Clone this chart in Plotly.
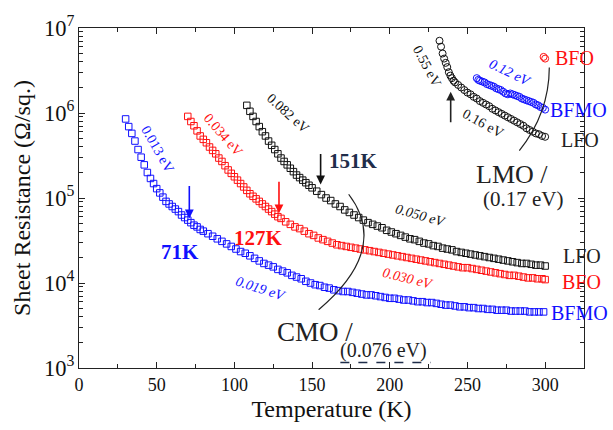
import numpy as np
import plotly.graph_objects as go

# ---- Sheet resistance vs temperature (log10 of R in Ohm/sq.) ----
# CMO-based films, square symbols
bfmo_T = [30, 32, 34, 36, 38, 40, 42, 44, 46, 48, 50, 52, 54, 56, 58, 60, 62, 64, 66, 68,
          70, 72, 74, 76, 78, 80, 83, 86, 89, 92, 95, 98, 101, 104, 107, 110, 113, 116, 119,
          122, 125, 128, 131, 134, 137, 140, 143, 146, 149, 152, 155, 158, 161, 164, 167, 170,
          173, 176, 179, 182, 185, 188, 191, 194, 197, 200, 203, 206, 209, 212, 215, 218, 221,
          224, 227, 230, 233, 236, 239, 242, 245, 248, 251, 254, 257, 260, 263, 266, 269, 272,
          275, 278, 281, 284, 287, 290, 293, 296, 299]
bfmo_logR = [5.93, 5.84, 5.76, 5.67, 5.57, 5.48, 5.39, 5.30, 5.23, 5.17, 5.11, 5.06, 5.01, 4.96,
             4.93, 4.90, 4.87, 4.84, 4.80, 4.77, 4.74, 4.71, 4.68, 4.66, 4.63, 4.61, 4.58, 4.55,
             4.52, 4.49, 4.46, 4.43, 4.40, 4.37, 4.35, 4.32, 4.29, 4.26, 4.23, 4.21, 4.19, 4.16,
             4.14, 4.12, 4.09, 4.07, 4.05, 4.02, 4.00, 3.98, 3.97, 3.95, 3.94, 3.92, 3.91, 3.90,
             3.90, 3.89, 3.88, 3.87, 3.86, 3.86, 3.85, 3.84, 3.83, 3.82, 3.82, 3.81, 3.80, 3.80,
             3.79, 3.78, 3.78, 3.77, 3.77, 3.76, 3.75, 3.74, 3.74, 3.73, 3.72, 3.72, 3.71, 3.71,
             3.70, 3.70, 3.69, 3.69, 3.68, 3.68, 3.68, 3.67, 3.67, 3.67, 3.67, 3.66, 3.66, 3.66,
             3.66]

bfo_T = [70, 72, 74, 76, 78, 80, 82, 84, 86, 88, 90, 92, 94, 96, 98, 100, 102, 104, 106, 108,
         110, 112, 114, 116, 118, 120, 122, 124, 126, 128, 130, 133, 136, 139, 142, 145, 148,
         151, 154, 157, 160, 163, 166, 169, 172, 175, 178, 181, 184, 187, 190, 193, 196, 199,
         202, 205, 208, 211, 214, 217, 220, 223, 226, 229, 232, 235, 238, 241, 244, 247, 250,
         253, 256, 259, 262, 265, 268, 271, 274, 277, 280, 283, 286, 289, 292, 295, 298, 300]
bfo_logR = [5.96, 5.90, 5.85, 5.79, 5.73, 5.69, 5.65, 5.60, 5.56, 5.52, 5.47, 5.43, 5.38, 5.33,
            5.29, 5.25, 5.21, 5.17, 5.13, 5.09, 5.05, 5.02, 4.99, 4.96, 4.93, 4.90, 4.87, 4.84,
            4.81, 4.78, 4.76, 4.72, 4.69, 4.66, 4.64, 4.61, 4.58, 4.56, 4.53, 4.51, 4.49, 4.47,
            4.45, 4.44, 4.43, 4.42, 4.41, 4.40, 4.39, 4.38, 4.37, 4.36, 4.35, 4.34, 4.33, 4.32,
            4.31, 4.30, 4.29, 4.28, 4.27, 4.26, 4.25, 4.24, 4.23, 4.22, 4.21, 4.20, 4.19, 4.18,
            4.18, 4.17, 4.16, 4.15, 4.14, 4.13, 4.12, 4.11, 4.10, 4.09, 4.09, 4.08, 4.07, 4.06,
            4.06, 4.05, 4.05, 4.04]

lfo_T = [108, 110, 112, 114, 116, 118, 120, 122, 124, 126, 128, 130, 132, 134, 136, 138, 140,
         142, 144, 146, 148, 150, 153, 156, 159, 162, 165, 168, 171, 174, 177, 180, 183, 186,
         189, 192, 195, 198, 201, 204, 207, 210, 213, 216, 219, 222, 225, 228, 231, 234, 237,
         240, 243, 246, 249, 252, 255, 258, 261, 264, 267, 270, 273, 276, 279, 282, 285, 288,
         291, 294, 297, 300]
lfo_logR = [6.09, 6.02, 5.96, 5.90, 5.84, 5.78, 5.73, 5.67, 5.62, 5.57, 5.52, 5.47, 5.43, 5.39,
            5.35, 5.31, 5.27, 5.24, 5.21, 5.18, 5.15, 5.12, 5.08, 5.04, 5.00, 4.97, 4.93, 4.90,
            4.86, 4.83, 4.80, 4.77, 4.74, 4.71, 4.69, 4.67, 4.65, 4.62, 4.60, 4.58, 4.56, 4.54,
            4.52, 4.51, 4.49, 4.47, 4.46, 4.44, 4.43, 4.41, 4.40, 4.39, 4.37, 4.36, 4.35, 4.34,
            4.33, 4.32, 4.31, 4.30, 4.29, 4.28, 4.27, 4.26, 4.25, 4.24, 4.23, 4.23, 4.22, 4.21,
            4.21, 4.20]

# LMO-based films, circle symbols
lmo_lfo_T = [232, 233, 234, 235, 236, 237, 238, 239, 240, 241, 242, 244, 246, 248, 250, 252,
             254, 256, 258, 260, 262, 264, 266, 268, 270, 272, 274, 276, 278, 280, 282, 284,
             286, 288, 290, 292, 294, 296, 298, 300]
lmo_lfo_logR = [6.85, 6.78, 6.70, 6.64, 6.59, 6.54, 6.48, 6.44, 6.41, 6.38, 6.36, 6.33, 6.30,
                6.27, 6.24, 6.22, 6.19, 6.17, 6.14, 6.12, 6.10, 6.08, 6.05, 6.03, 6.01, 5.99,
                5.97, 5.95, 5.93, 5.91, 5.89, 5.87, 5.85, 5.82, 5.80, 5.78, 5.76, 5.75, 5.73,
                5.72]

lmo_bfmo_T = [256, 257, 258, 259.5, 261, 262.5, 264, 265.5, 267, 268.5, 270, 271.5, 273, 274.5,
              276, 277.5, 279, 280.5, 282, 283.5, 285, 286.5, 288, 289.5, 291, 292.5, 294,
              295.5, 297, 298.5, 300]
lmo_bfmo_logR = [6.41, 6.39, 6.38, 6.37, 6.36, 6.34, 6.33, 6.32, 6.31, 6.29, 6.28, 6.27, 6.25,
                 6.23, 6.22, 6.23, 6.22, 6.21, 6.20, 6.19, 6.17, 6.16, 6.15, 6.14, 6.13, 6.12,
                 6.10, 6.09, 6.07, 6.06, 6.04]

lmo_bfo_T = [299, 300]
lmo_bfo_logR = [6.66, 6.64]

BLUE = "#1010ff"
RED = "#ff1010"
BLACK = "#111111"
NAVY = "#1f2d4a"
DARK = "#222222"
SERIF = "Liberation Serif"


def R(vals):
    return 10 ** np.asarray(vals)


fig = go.Figure()

square_sets = [(bfmo_T, bfmo_logR, BLUE), (bfo_T, bfo_logR, RED), (lfo_T, lfo_logR, BLACK)]
for t, lr, c in square_sets:
    fig.add_trace(go.Scatter(x=t, y=R(lr), mode="markers",
                             marker=dict(symbol="square-open", size=6.5, color=c,
                                         line=dict(width=1, color=c))))

circle_sets = [(lmo_lfo_T, lmo_lfo_logR, BLACK), (lmo_bfmo_T, lmo_bfmo_logR, BLUE),
               (lmo_bfo_T, lmo_bfo_logR, RED)]
for t, lr, c in circle_sets:
    fig.add_trace(go.Scatter(x=t, y=R(lr), mode="markers",
                             marker=dict(symbol="circle-open", size=7, color=c,
                                         line=dict(width=1, color=c))))

annotations = []


def label(x, ylog, text, color, size=14, angle=0, bold=False, italic=False):
    t = text
    if bold:
        t = "<b>" + t + "</b>"
    if italic:
        t = "<i>" + t + "</i>"
    annotations.append(dict(x=x, y=ylog, xref="x", yref="y", text=t, showarrow=False,
                            textangle=angle, font=dict(family=SERIF, size=size, color=color)))


# activation-energy labels
label(50.2, 5.58, "0.013 eV", BLUE, 14, 60)
label(92.7, 5.75, "0.034 eV", RED, 14, 49)
label(134.5, 5.99, "0.082 eV", BLACK, 14, 42)
label(219.9, 4.80, "0.050 eV", BLACK, 14, 16, italic=True)
label(211.7, 4.05, "0.030 eV", RED, 14, 14, italic=True)
label(116.5, 3.94, "0.019 eV", BLUE, 14, 18, italic=True)
label(277.3, 6.48, "0.12 eV", BLUE, 14, 26, italic=True)
label(224.1, 6.55, "0.55 eV", BLACK, 14, 62)
label(260.2, 5.88, "0.16 eV", BLACK, 14, 29)

# transition temperatures
label(65, 4.36, "71K", BLUE, 21, bold=True)
label(115.4, 4.535, "127K", RED, 21, bold=True)
label(176.8, 5.43, "151K", NAVY, 21, bold=True)

# film groups
label(278.4, 5.28, "LMO /", DARK, 26)
label(285.7, 4.99, "(0.17 eV)", DARK, 21)
label(152, 3.42, "CMO /", DARK, 27)
label(196.2, 3.21, "(0.076 eV)", DARK, 20)

# curve names at the right edge
label(319.2, 6.65, "BFO", RED, 20)
label(321.3, 6.03, "BFMO", BLUE, 20)
label(322.4, 5.68, "LFO", DARK, 20)
label(323.4, 4.32, "LFO", DARK, 20)
label(323.4, 4.01, "BFO", RED, 20)
label(322.3, 3.65, "BFMO", BLUE, 20)

# arrows marking the transitions
arrows = [(71, 4.76, -34, BLUE), (128.7, 4.82, -33, RED), (155.5, 5.16, -32, BLACK),
          (239.2, 6.25, 32, DARK)]
for ax_t, ylog, ay, c in arrows:
    annotations.append(dict(x=ax_t, y=ylog, xref="x", yref="y", ax=0, ay=ay, text="",
                            showarrow=True, arrowhead=2, arrowsize=1.1, arrowwidth=1.6,
                            arrowcolor=c))

shapes = [
    # bracket arcs
    dict(type="path", xref="paper", yref="paper",
         path="M 0.534 0.511 Q 0.6166 0.35 0.4745 0.1714",
         line=dict(color=DARK, width=1.2)),
    dict(type="path", xref="paper", yref="paper",
         path="M 0.9313 0.8837 Q 0.9309 0.7489 0.8719 0.6391",
         line=dict(color=DARK, width=1.2)),
    # dashed underline below the CMO energy
    dict(type="line", xref="x", yref="paper", x0=168.2, x1=226.4, y0=0.016, y1=0.016,
         line=dict(color=NAVY, width=1.5, dash="dash")),
]

axis_common = dict(showline=True, linecolor=DARK, linewidth=1.3, mirror="ticks",
                   ticks="inside", tickcolor=DARK, ticklen=6, tickwidth=1,
                   showgrid=False, zeroline=False,
                   tickfont=dict(family=SERIF, size=18, color=BLACK))

fig.update_layout(
    width=613, height=430,
    margin=dict(l=79, r=29, t=21, b=59),
    plot_bgcolor="white", paper_bgcolor="white",
    showlegend=False,
    annotations=annotations,
    shapes=shapes,
    xaxis=dict(range=[0, 325], tickmode="linear", tick0=0, dtick=50,
               minor=dict(ticks="inside", dtick=25, ticklen=4, tickcolor=DARK),
               title=dict(text="Temperature (K)", standoff=6,
                          font=dict(family=SERIF, size=24, color=BLACK)),
               **axis_common),
    yaxis=dict(type="log", range=[3, 7], dtick=1, exponentformat="power", showexponent="all",
               minor=dict(ticks="inside", ticklen=3.5, tickcolor=DARK),
               title=dict(text="Sheet Resistance (\u03a9/sq.)", standoff=6,
                          font=dict(family=SERIF, size=24, color=BLACK)),
               **axis_common),
)

fig.write_html("out.html")
